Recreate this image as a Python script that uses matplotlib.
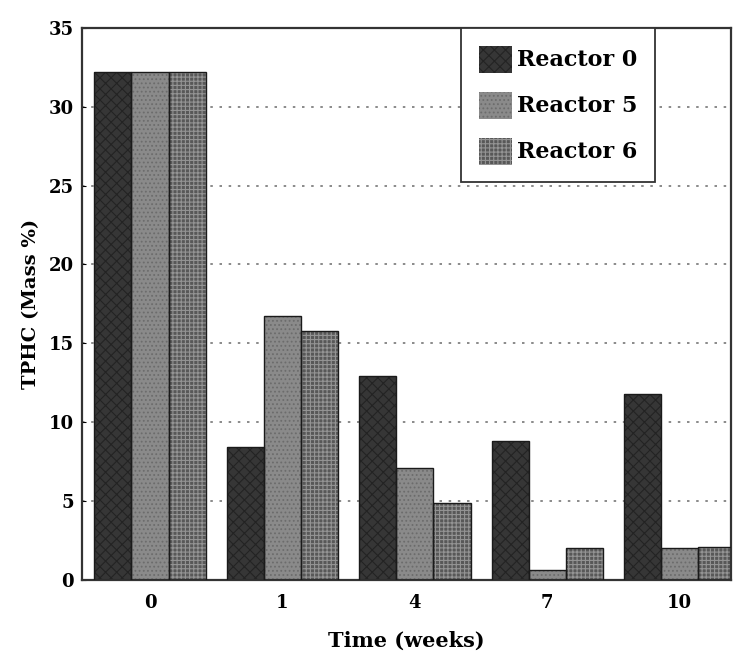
import matplotlib
matplotlib.use("Agg")
import matplotlib.pyplot as plt
import numpy as np

weeks = ["0", "1", "4", "7", "10"]
reactor0 = [32.2, 8.4, 12.9, 8.8, 11.8]
reactor5 = [32.2, 16.7, 7.1, 0.6, 2.0]
reactor6 = [32.2, 15.8, 4.9, 2.0, 2.1]
series_names = ["Reactor 0", "Reactor 5", "Reactor 6"]
yticks = [0, 5, 10, 15, 20, 25, 30, 35]

plt.rcParams['font.family'] = ['DejaVu Serif']
plt.rcParams['font.weight'] = 'bold'
plt.rcParams['hatch.linewidth'] = 0.8

fig = plt.figure(figsize=(7.33, 6.62), dpi=100)
ax = fig.add_axes([0.112, 0.124, 0.885, 0.834])

x = np.arange(len(weeks))
w = 0.28
styles = [
    dict(face="#363636", hatch="xxx", hcol="#232323"),
    dict(face="#8a8a8a", hatch="....", hcol="#6c6c6c"),
    dict(face="#585858", hatch="++++", hcol="#949494"),
]
data = [reactor0, reactor5, reactor6]
handles = []
for i, (vals, st) in enumerate(zip(data, styles)):
    pos = x + (i - 1) * w
    b = ax.bar(pos, vals, w, color=st["face"], hatch=st["hatch"],
               edgecolor=st["hcol"], linewidth=0, zorder=2, label=series_names[i])
    ax.bar(pos, vals, w, fill=False, edgecolor="#1a1a1a", linewidth=1.0, zorder=3)
    handles.append(b)

ax.set_xlim(-0.513, 4.385)
ax.set_ylim(0, 35)
ax.set_yticks(yticks)
ax.set_xticks(x)
ax.set_xticklabels(weeks)
ax.tick_params(axis='both', labelsize=13, length=0, pad=10)
ax.tick_params(axis='y', length=3, direction='in', pad=6)
for yv in yticks[1:-1]:
    ax.axhline(yv, color="#777777", linestyle=(0, (1.5, 4)), linewidth=1.2, zorder=1)
for s in ax.spines.values():
    s.set_linewidth(1.6)
    s.set_color("#333333")

ax.set_xlabel("Time (weeks)", fontsize=15, fontweight='bold', labelpad=14)
ax.set_ylabel("TPHC (Mass %)", fontsize=14, fontweight='bold', labelpad=6)

leg = ax.legend(handles=handles, loc='upper right', bbox_to_anchor=(0.883, 1.0),
                borderaxespad=0, fancybox=False, framealpha=1, edgecolor="#333333",
                fontsize=16, handlelength=1.5, handleheight=1.5, handletextpad=0.2,
                labelspacing=0.85, borderpad=0.8)
leg.get_frame().set_linewidth(1.3)

fig.savefig("out.png", dpi=100)
